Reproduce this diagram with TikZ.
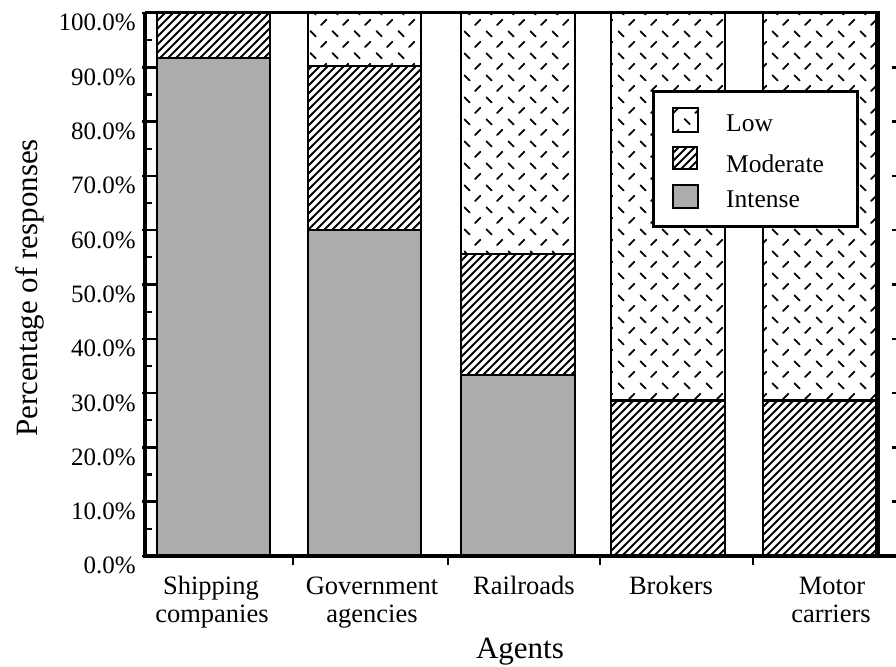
\documentclass[tikz,border=0pt]{standalone}
\usepackage{fontspec}
\setmainfont{Liberation Serif}
\usetikzlibrary{patterns}

\definecolor{intensegray}{RGB}{172,172,172}

% dense 45 degree hatching for the "Moderate" share
\pgfdeclarepatternformonly{hatchlines}{\pgfpoint{-1pt}{-1pt}}{\pgfpoint{9pt}{9pt}}{\pgfpoint{8pt}{8pt}}{
  \pgfsetlinewidth{1.8pt}
  \pgfpathmoveto{\pgfpoint{-0.5pt}{-0.5pt}}
  \pgfpathlineto{\pgfpoint{8.5pt}{8.5pt}}
  \pgfusepath{stroke}}

% scattered short slashes for the "Low" share
\pgfdeclarepatternformonly{lowmarks}{\pgfpointorigin}{\pgfpoint{22pt}{22pt}}{\pgfpoint{22pt}{22pt}}{
  \pgfsetlinewidth{1.8pt}\pgfsetroundcap
  \pgfpathmoveto{\pgfpoint{2.5pt}{19.5pt}}\pgfpathlineto{\pgfpoint{8pt}{14pt}}
  \pgfpathmoveto{\pgfpoint{13.5pt}{3pt}}\pgfpathlineto{\pgfpoint{19pt}{8.5pt}}
  \pgfusepath{stroke}}

\tikzset{
  barline/.style={draw=black, line width=2.4pt},
  intense/.style={fill=intensegray},
  moderate/.style={pattern=hatchlines},
  low/.style={pattern=lowmarks},
  ticklabel/.style={font=\fontsize{25}{25}\selectfont, anchor=base east, inner sep=0pt},
  catlabel/.style={font=\fontsize{26.5}{26.5}\selectfont, anchor=base, inner sep=0pt},
  axistitle/.style={font=\fontsize{31}{31}\selectfont, anchor=base, inner sep=0pt},
  legendtext/.style={font=\fontsize{25.5}{25.5}\selectfont, anchor=base west, inner sep=0pt},
  majortick/.style={line width=2.5pt},
  minortick/.style={line width=2.2pt},
}

\begin{document}
\begin{tikzpicture}[x=1pt,y=1pt]
\useasboundingbox[fill=white] (0,0) rectangle (896,666);

% plot area: x in points, y in percent
\begin{scope}[yshift=110pt, y=5.43pt]
  % Shipping companies
  \draw[barline,intense]  (157,0)    rectangle (270,91.7);
  \draw[barline,moderate] (157,91.7) rectangle (270,100);
  % Government agencies
  \draw[barline,intense]  (308,0)    rectangle (421,60);
  \draw[barline,moderate] (308,60)   rectangle (421,90.2);
  \draw[barline,low]      (308,90.2) rectangle (421,100);
  % Railroads
  \draw[barline,intense]  (461,0)    rectangle (575,33.3);
  \draw[barline,moderate] (461,33.3) rectangle (575,55.6);
  \draw[barline,low]      (461,55.6) rectangle (575,100);
  % Brokers
  \draw[barline,moderate] (611,0)    rectangle (725,28.6);
  \draw[barline,low]      (611,28.6) rectangle (725,100);
  % Motor carriers
  \draw[barline,moderate] (763,0)    rectangle (876,28.6);
  \draw[barline,low]      (763,28.6) rectangle (876,100);

  % frame and axes
  \draw[line width=3pt] (145,100) -- (878,100) -- (878,0);
  \draw[line width=4.5pt] (145,-0.4) -- (145,100.25);
  \draw[line width=4.5pt] (143,0) -- (896,0);

  % vertical axis ticks and labels
  \foreach \v in {0,10,...,100} {
    \draw[majortick] (142,\v) -- (156,\v);
    \node[ticklabel, yshift=-18pt] (ylab\v) at (136,\v) {\v.0\%};
  }
  \foreach \v in {5,15,...,95}
    \draw[minortick] (145,\v) -- (152,\v);
  \foreach \v in {10,20,...,90}
    \draw[majortick] (892,\v) -- (896,\v);

  % category separators on the horizontal axis
  \foreach \x in {293,448,600,753}
    \draw[majortick] (\x,0) -- (\x,-1.7);
\end{scope}

% category names
\node[catlabel] (shipA) at (211,71) {Shipping};
\node[catlabel] (shipB) at (212,43) {companies};
\node[catlabel] (govA)  at (372,71) {Government};
\node[catlabel] (govB)  at (372,43) {agencies};
\node[catlabel] (rail)  at (524,71) {Railroads};
\node[catlabel] (brok)  at (671,71) {Brokers};
\node[catlabel] (motA)  at (832,71) {Motor};
\node[catlabel] (motB)  at (831,43) {carriers};

% axis titles
\node[axistitle] (xtitle) at (520,8) {Agents};
\node[axistitle, rotate=90] (ytitle) at (37,378) {Percentage of responses};

% legend
\draw[line width=3pt, fill=white] (653,574) rectangle (857,439);
\draw[barline,low]      (673,558) rectangle (698,534);
\draw[barline,moderate] (673,519) rectangle (697,497);
\draw[barline,intense]  (673,481) rectangle (698,458);
\node[legendtext] (legLow) at (726,534) {Low};
\node[legendtext] (legMod) at (726,493) {Moderate};
\node[legendtext] (legInt) at (726,458) {Intense};
\end{tikzpicture}
\end{document}
